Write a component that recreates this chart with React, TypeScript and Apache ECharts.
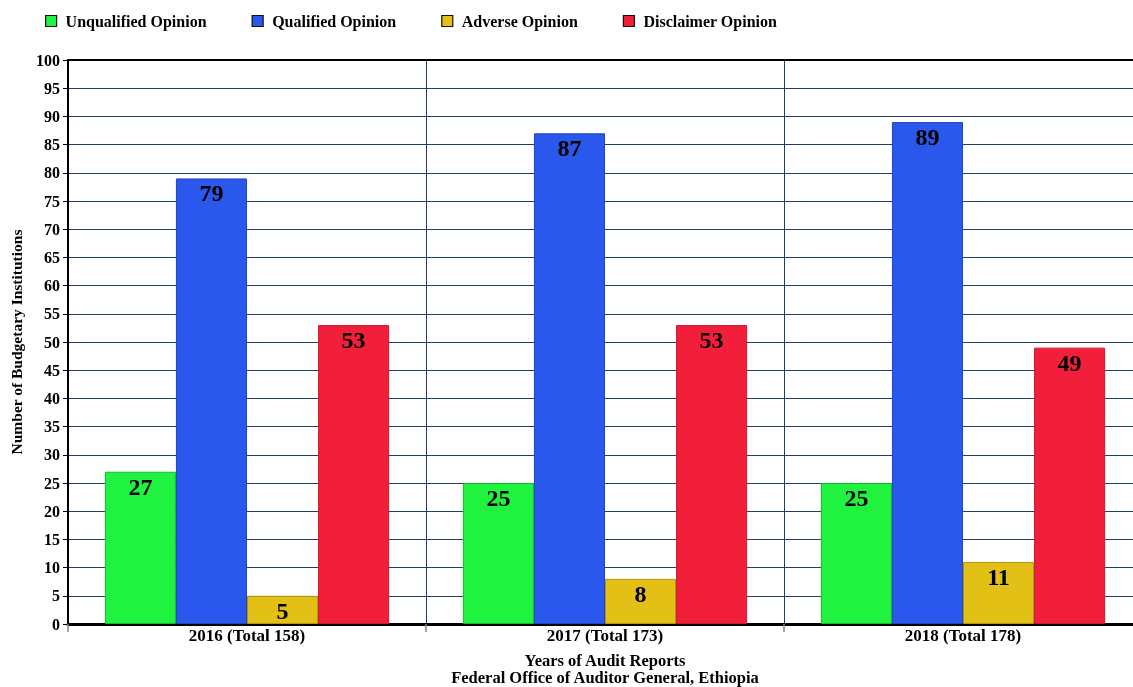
import React, { useEffect, useRef } from "react";
import * as echarts from "echarts";

const categories = ["2016 (Total 158)", "2017 (Total 173)", "2018 (Total 178)"];
const seriesNames = ["Unqualified Opinion", "Qualified Opinion", "Adverse Opinion", "Disclaimer Opinion"];
const unqualified = [27, 25, 25];
const qualified = [79, 87, 89];
const adverse = [5, 8, 11];
const disclaimer = [53, 53, 49];
const colors = ["#1ff23f", "#2a57ec", "#e2c016", "#f21f3a"];
const borders = ["#17b830", "#1f45c0", "#b39510", "#c81a30"];

const FONT = "'Liberation Serif', 'Times New Roman', serif";

export default function App() {
  const ref = useRef<HTMLDivElement>(null);
  useEffect(() => {
    const chart = echarts.init(ref.current!, undefined, { renderer: "svg" });
    const data = [unqualified, qualified, adverse, disclaimer];
    chart.setOption({
      animation: false,
      textStyle: { fontFamily: FONT },
      legend: {
        left: 40,
        top: 8,
        itemWidth: 11,
        itemHeight: 11,
        itemGap: 45,
        icon: "rect",
        textStyle: { fontFamily: FONT, fontWeight: "bold", fontSize: 16, color: "#000", padding: [0, 0, 0, 4] },
        data: seriesNames.map((name) => ({ name, itemStyle: { borderColor: "#111", borderWidth: 1.2 } })),
      },
      grid: { left: 68, top: 60, width: 1074, bottom: 63, containLabel: false, outerBoundsMode: "none" },
      xAxis: [
        {
          type: "category",
          data: categories,
          axisLine: { lineStyle: { color: "#000", width: 3 } },
          axisTick: { show: true, length: 8, lineStyle: { color: "#7788a0", width: 1.5 } },
          axisLabel: { fontFamily: FONT, fontWeight: "bold", fontSize: 17, color: "#000", margin: 3 },
          splitLine: { show: true, lineStyle: { color: "#1f3f6a", width: 1 } },
          name: "Years of Audit Reports\nFederal Office of Auditor General, Ethiopia",
          nameLocation: "middle",
          nameGap: 28,
          nameTextStyle: { fontFamily: FONT, fontWeight: "bold", fontSize: 16.5, color: "#000", lineHeight: 17, verticalAlign: "top" },
        },
        {
          type: "category",
          position: "top",
          data: categories,
          axisLine: { lineStyle: { color: "#000", width: 2 } },
          axisTick: { show: false },
          axisLabel: { show: false },
        },
      ],
      yAxis: {
        type: "value",
        min: 0,
        max: 100,
        interval: 5,
        axisLine: { show: true, lineStyle: { color: "#000", width: 2 } },
        axisTick: { show: true, length: 5, lineStyle: { color: "#000" } },
        axisLabel: { fontFamily: FONT, fontWeight: "bold", fontSize: 16, color: "#000", margin: 8 },
        splitLine: { lineStyle: { color: "#1f3f6a", width: 1.2 } },
        name: "Number of Budgetary Institutions",
        nameLocation: "middle",
        nameGap: 44,
        nameTextStyle: { fontFamily: FONT, fontWeight: "bold", fontSize: 15.5, color: "#000" },
      },
      series: seriesNames.map((name, i) => ({
        name,
        type: "bar",
        data: data[i],
        barGap: "0%",
        barCategoryGap: "20.6%",
        itemStyle: { color: colors[i], borderColor: borders[i], borderWidth: 1 },
        label: {
          show: true,
          position: "insideTop",
          distance: 3,
          fontFamily: FONT,
          fontWeight: "bold",
          fontSize: 24,
          color: "#000",
        },
      })),
    });
    return () => chart.dispose();
  }, []);
  return <div ref={ref} style={{ position: "fixed", left: 0, top: 0, width: 1133, height: 687 }} />;
}
